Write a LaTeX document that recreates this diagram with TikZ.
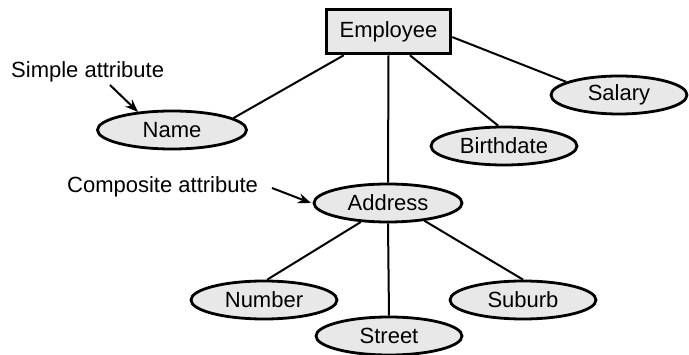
\documentclass[tikz,border=0pt]{standalone}
\usepackage{fontspec}
\setmainfont{Liberation Sans}
\usetikzlibrary{shapes.geometric,arrows.meta}
\begin{document}
\begin{tikzpicture}[x=1pt,y=-1pt,
  font=\fontsize{22}{26}\selectfont,
  entity/.style={draw,line width=3.6pt,fill=gray!18,minimum width=124pt,minimum height=44pt,inner sep=0pt},
  attr/.style={draw,ellipse,line width=2.8pt,fill=gray!18,minimum height=38pt,inner sep=0pt},
  conn/.style={line width=2pt},
  note/.style={line width=2pt,-{Stealth[length=13pt,width=10pt]}}]
\useasboundingbox (0,0) rectangle (689,355);
\node[entity] (emp) at (388.5,31.5) {Employee};
\node[attr,minimum width=149pt] (name) at (172,130) {Name};
\node[attr,minimum width=146pt] (birth) at (504,146) {Birthdate};
\node[attr,minimum width=136pt] (salary) at (619,95) {Salary};
\node[attr,minimum width=148pt] (addr) at (388,203) {Address};
\node[attr,minimum width=146pt] (number) at (264,300) {Number};
\node[attr,minimum width=146pt] (suburb) at (523,300) {Suburb};
\node[attr,minimum width=146pt] (street) at (389,336) {Street};
\node[anchor=base west,inner sep=0pt] (simple) at (11,78) {Simple attribute};
\node[anchor=base west,inner sep=0pt] (comp) at (67,193) {Composite attribute};
\coordinate (sa1) at (110,85);
\coordinate (sa2) at (138,112);
\coordinate (ca1) at (272,188);
\coordinate (ca2) at (311,203);
\draw[conn] (emp.208) -- (name.11);
\draw[conn] (emp.south) -- (addr.north);
\draw[conn] (emp.312) -- (birth.106);
\draw[conn] (emp.-5) -- (salary.166);
\draw[conn] (addr.215) -- (number.81);
\draw[conn] (addr.south) -- (street.north);
\draw[conn] (addr.334) -- (suburb.90);
\draw[note] (sa1) -- (sa2);
\draw[note] (ca1) -- (ca2);
\end{tikzpicture}
\end{document}
